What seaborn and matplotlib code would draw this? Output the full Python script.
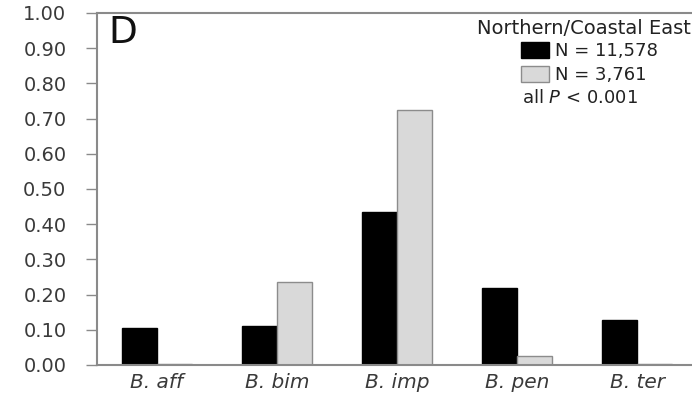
import matplotlib
matplotlib.use("Agg")
import matplotlib.pyplot as plt
import matplotlib.patches as mpatches
import seaborn as sns
import pandas as pd

species = ["B. aff", "B. bim", "B. imp", "B. pen", "B. ter"]
group_labels = ["N = 11,578", "N = 3,761"]
values_n1 = [0.106, 0.111, 0.434, 0.220, 0.127]
values_n2 = [0.003, 0.236, 0.724, 0.026, 0.004]
yticks = [0.0, 0.1, 0.2, 0.3, 0.4, 0.5, 0.6, 0.7, 0.8, 0.9, 1.0]
title = "Northern/Coastal East"
panel = "D"

df = pd.DataFrame({
    "species": species * 2,
    "group": [group_labels[0]] * len(species) + [group_labels[1]] * len(species),
    "value": values_n1 + values_n2,
})

sns.set_style("white")
plt.rcParams["font.family"] = ["DejaVu Sans"]

colors = ["#000000", "#d9d9d9"]
edges = ["#000000", "#8c8c8c"]
spine_c = "#8a8a8a"
text_c = "#3a3a3a"

fig = plt.figure(figsize=(6.92, 4.0), dpi=100)
W, H = 692, 400
ax = fig.add_axes([97 / W, 1 - 365 / H, 600 / W, 352 / H])

sns.barplot(data=df, x="species", y="value", hue="group", order=species,
            hue_order=group_labels, palette=colors, width=0.58, gap=0,
            ax=ax, legend=False, saturation=1)

for i, cont in enumerate(ax.containers):
    for p in cont:
        p.set_edgecolor(edges[i])
        p.set_linewidth(1.0)

ax.set_xlim(-0.5, 4.5)
ax.set_ylim(0, 1.0)
ax.set_yticks(yticks)
ax.set_yticklabels([f"{v:.2f}" for v in yticks], fontsize=14, color=text_c)
ax.set_xlabel("")
ax.set_ylabel("")
ax.set_xticks(range(len(species)))
ax.set_xticklabels(species, fontsize=14.5, style="italic", color=text_c)
ax.set_xticks([0.5, 1.5, 2.5, 3.5], minor=True)
ax.tick_params(axis="x", which="major", length=0, pad=6)
ax.tick_params(axis="x", which="minor", length=5, width=1, color=spine_c, direction="out")
ax.tick_params(axis="y", which="major", length=8, width=1, color=spine_c, direction="out", pad=14, left=True)

for s in ["left", "bottom", "top"]:
    ax.spines[s].set_color(spine_c)
    ax.spines[s].set_linewidth(1.5)
ax.spines["right"].set_visible(False)

# panel letter
fig.text(108 / W, 1 - 33 / H, panel, fontsize=27, ha="left", va="center", color="#111111")

# legend title
fig.text(691 / W, 1 - 28 / H, title, fontsize=14, ha="right", va="center", color="#222222")

handles = [mpatches.Patch(facecolor=colors[i], edgecolor=edges[i], label=group_labels[i])
           for i in range(2)]
leg = fig.legend(handles=handles, loc="upper left", bbox_to_anchor=(521 / W, 1 - 42 / H),
                 frameon=False, handlelength=1.55, handleheight=0.95,
                 handletextpad=0.35, labelspacing=0.35, borderpad=0, borderaxespad=0,
                 prop={"family": ["DejaVu Sans"], "size": 13})
for t in leg.get_texts():
    t.set_color("#222222")

fig.text(522 / W, 1 - 98 / H, "all $P$ < 0.001", fontsize=13, ha="left", va="center",
         color="#222222")

fig.savefig("out.png", dpi=100, facecolor="white")
